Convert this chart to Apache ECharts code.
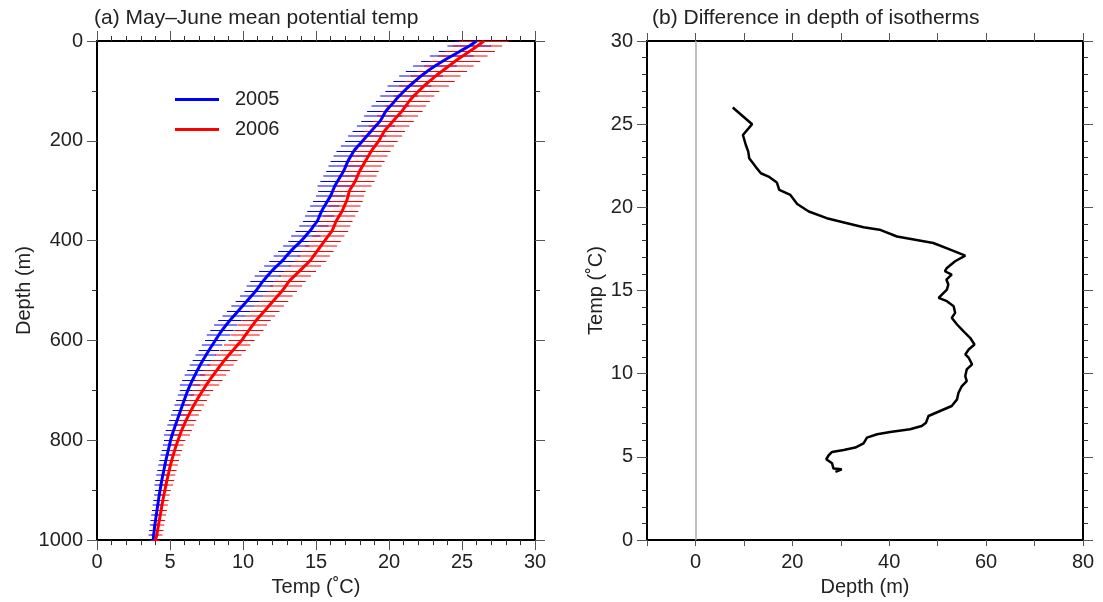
<!DOCTYPE html>
<html>
<head>
<meta charset="utf-8">
<script src="https://cdn.jsdelivr.net/npm/echarts@6/dist/echarts.min.js"></script>
<style>
html, body { margin: 0; padding: 0; background: #fff; }
#chart { width: 1103px; height: 602px; }
</style>
</head>
<body>
<div id="chart"></div>
<script>
// depth levels (m) of the mean profiles, panel (a)
var depths = [0,10,20,30,40,50,60,70,80,90,100,110,120,130,140,150,160,170,180,190,
  200,210,220,230,240,250,260,270,280,290,300,310,320,330,340,350,360,370,380,390,
  400,410,420,430,440,450,460,470,480,490,500,510,520,530,540,550,560,570,580,590,
  600,610,620,630,640,650,660,670,680,690,700,710,720,730,740,750,760,770,780,790,
  800,810,820,830,840,850,860,870,880,890,900,910,920,930,940,950,960,970,980,990,1000];

// May-June mean potential temperature, 2005
var temp2005 = [26.0,25.5,24.9,24.3,23.7,23.15,22.65,22.2,21.8,21.4,
  21.05,20.7,20.4,20.1,19.8,19.6,19.4,19.1,18.8,18.5,
  18.2,17.9,17.6,17.4,17.2,17.05,16.9,16.7,16.5,16.3,
  16.15,16.0,15.8,15.6,15.4,15.25,15.1,14.85,14.6,14.3,
  14.0,13.65,13.3,13.0,12.7,12.35,12.0,11.7,11.4,11.15,
  10.9,10.6,10.3,10.0,9.7,9.4,9.1,8.82,8.56,8.32,
  8.1,7.88,7.66,7.45,7.25,7.05,6.87,6.7,6.53,6.37,
  6.22,6.09,5.97,5.85,5.73,5.61,5.49,5.37,5.25,5.14,
  5.04,4.96,4.88,4.8,4.72,4.65,4.58,4.51,4.44,4.38,
  4.32,4.26,4.21,4.16,4.11,4.06,4.01,3.96,3.92,3.88,3.85];

// May-June mean potential temperature, 2006
var temp2006 = [26.5,26.05,25.55,25.05,24.55,24.1,23.65,23.2,22.8,22.4,
  22.05,21.7,21.4,21.15,20.9,20.6,20.3,20.0,19.7,19.5,
  19.3,19.05,18.8,18.6,18.4,18.2,18.0,17.85,17.7,17.5,
  17.3,17.2,17.1,16.95,16.8,16.6,16.4,16.25,16.1,15.85,
  15.6,15.35,15.1,14.85,14.6,14.25,13.9,13.55,13.2,12.95,
  12.7,12.4,12.1,11.8,11.5,11.2,10.9,10.65,10.4,10.15,
  9.9,9.6,9.3,9.0,8.72,8.46,8.2,7.95,7.7,7.47,
  7.25,7.03,6.83,6.63,6.45,6.27,6.1,5.95,5.8,5.67,
  5.55,5.43,5.32,5.22,5.12,5.03,4.95,4.87,4.79,4.72,
  4.65,4.58,4.51,4.45,4.39,4.33,4.27,4.21,4.15,4.09,4.0];

// error bar half width (deg C) per 100 m band: 0-99, 100-199, ... , 1000
var err2005 = [1.5, 1.3, 1.2, 1.0, 0.9, 0.8, 0.7, 0.55, 0.45, 0.35, 0.3];
var err2006 = [1.7, 1.4, 1.3, 1.1, 1.1, 1.0, 0.9, 0.7, 0.5, 0.4, 0.3];

// panel (b): difference in depth of isotherms
var isoTemp = [26.0,25.0,24.35,23.75,23.35,22.95,22.45,22.05,21.85,21.5,
  21.05,20.75,20.2,19.75,19.65,19.35,19.05,18.8,18.66,18.25,
  17.86,17.46,17.1,16.76,16.36,16.16,15.96,15.66,15.36,15.06,
  14.56,14.36,14.06,13.66,13.36,12.96,12.56,12.16,11.76,11.46,
  11.16,10.96,10.56,10.26,9.86,9.56,9.26,8.86,8.46,8.06,
  7.76,7.46,7.06,6.86,6.66,6.5,6.36,6.16,5.82,5.56,
  5.42,5.3,5.1,4.86,4.62,4.3,4.26,4.1];
var isoDiff = [7.7,11.7,9.8,10.4,10.9,11.1,12.4,13.5,15.1,16.8,
  17.3,19.6,21.0,23.4,23.7,27.1,31.3,34.7,38.0,41.6,
  49.1,52.6,55.7,53.6,51.9,51.5,52.9,51.8,52.2,51.9,
  50.2,51.9,53.3,53.6,52.9,54.0,55.3,56.7,57.6,56.4,
  55.7,56.4,57.1,56.0,55.7,56.0,55.0,54.3,54.0,52.9,
  50.5,48.1,47.6,46.7,44.3,40.2,37.5,35.4,34.7,33.0,
  30.6,28.2,27.5,27.0,28.2,28.5,30.2,28.9];

var FONT = 'Liberation Sans';
var TXT = '#222';
var FS = 20;

function profile(temps) {
  return depths.map(function (d, i) { return [temps[i], d]; });
}
function errData(temps, errs) {
  return depths.map(function (d, i) {
    return [temps[i], d, errs[Math.min(10, Math.floor(d / 100))], i];
  });
}
// every other bar sits between pixel rows, so it comes out softer, as in the original
function errBars(color) {
  return function (params, api) {
    var t = api.value(0), d = api.value(1), e = api.value(2), i = api.value(3);
    var a = api.coord([t - e, d]);
    var b = api.coord([t + e, d]);
    var y = Math.round(a[1]) + (i % 2 ? 0 : 0.5);
    return {
      type: 'line',
      shape: { x1: a[0], y1: y, x2: b[0], y2: y },
      style: { stroke: color, lineWidth: 1, fill: null }
    };
  };
}
function plain(v) { return String(v); }

function axisBase(extra) {
  var o = {
    type: 'value',
    axisLine: { show: true, onZero: false, lineStyle: { color: '#000', width: 2 } },
    axisTick: { show: true, inside: false, length: 10, lineStyle: { color: '#555', width: 1 } },
    axisLabel: { show: true, fontFamily: FONT, fontSize: FS, color: TXT, margin: 12, formatter: plain },
    splitLine: { show: false },
    nameTextStyle: { fontFamily: FONT, fontSize: FS, color: TXT },
    nameLocation: 'middle'
  };
  for (var k in extra) o[k] = extra[k];
  return o;
}
var minor5 = { show: true, splitNumber: 5, length: 5, lineStyle: { color: '#333' } };
var minor2 = { show: true, splitNumber: 2, length: 5, lineStyle: { color: '#333' } };
var leftLabel = { show: true, fontFamily: FONT, fontSize: FS, color: TXT, margin: 14, formatter: plain };

var chart = echarts.init(document.getElementById('chart'), null, { renderer: 'canvas' });

var option = {
  animation: false,
  backgroundColor: '#fff',
  title: [
    { text: '(a) May\u2013June mean potential temp', left: 89, top: 3,
      textStyle: { fontFamily: FONT, fontSize: 21, fontWeight: 'normal', color: TXT } },
    { text: '(b) Difference in depth of isotherms', left: 647, top: 3,
      textStyle: { fontFamily: FONT, fontSize: 21, fontWeight: 'normal', color: TXT } }
  ],
  legend: {
    data: ['2005', '2006'],
    orient: 'vertical',
    left: 170, top: 84,
    itemWidth: 44, itemHeight: 3, itemGap: 9,
    icon: 'rect',
    textStyle: { fontFamily: FONT, fontSize: FS, color: TXT, padding: [0, 0, 0, 11], lineHeight: 21 }
  },
  grid: [
    { left: 97, top: 41, width: 438, height: 500 },
    { left: 647, top: 41, width: 436, height: 500 }
  ],
  xAxis: [
    axisBase({ gridIndex: 0, position: 'bottom', min: 0, max: 30, interval: 5,
      minorTick: minor5, name: 'Temp (\u02DAC)', nameGap: 31 }),
    axisBase({ gridIndex: 0, position: 'top', min: 0, max: 30, interval: 5,
      minorTick: minor5, axisLabel: { show: false } }),
    axisBase({ gridIndex: 1, position: 'bottom', min: -10, max: 80, interval: 10,
      axisTick: { show: true, length: 6, lineStyle: { color: '#555' } },
      axisLabel: { show: true, fontFamily: FONT, fontSize: FS, color: TXT, margin: 12,
        formatter: function (v) { return (v >= 0 && v % 20 === 0) ? String(v) : ''; } },
      name: 'Depth (m)', nameGap: 31 }),
    axisBase({ gridIndex: 1, position: 'top', min: -10, max: 80, interval: 10,
      axisTick: { show: true, length: 8, lineStyle: { color: '#555' } },
      axisLabel: { show: false } })
  ],
  yAxis: [
    axisBase({ gridIndex: 0, position: 'left', inverse: true, min: 0, max: 1000, interval: 200,
      minorTick: minor2, axisLabel: leftLabel, name: 'Depth (m)', nameGap: 62 }),
    axisBase({ gridIndex: 0, position: 'right', inverse: true, min: 0, max: 1000, interval: 200,
      minorTick: minor2, axisLabel: { show: false } }),
    axisBase({ gridIndex: 1, position: 'left', min: 0, max: 30, interval: 5,
      minorTick: minor5, axisLabel: leftLabel, name: 'Temp (\u02DAC)', nameGap: 40 }),
    axisBase({ gridIndex: 1, position: 'right', min: 0, max: 30, interval: 5,
      minorTick: minor5, axisLabel: { show: false } })
  ],
  series: [
    { name: '2005 err', type: 'custom', xAxisIndex: 0, yAxisIndex: 0, silent: true,
      itemStyle: { color: '#0000ff' },
      renderItem: errBars('#0000ff'), data: errData(temp2005, err2005), z: 2 },
    { name: '2006 err', type: 'custom', xAxisIndex: 0, yAxisIndex: 0, silent: true,
      itemStyle: { color: '#ff0000' },
      renderItem: errBars('#ff0000'), data: errData(temp2006, err2006), z: 3 },
    { name: '2005', type: 'line', xAxisIndex: 0, yAxisIndex: 0, showSymbol: false, smooth: 0.4,
      color: '#0000ff', lineStyle: { color: '#0000ff', width: 3 }, data: profile(temp2005), z: 5 },
    { name: '2006', type: 'line', xAxisIndex: 0, yAxisIndex: 0, showSymbol: false, smooth: 0.4,
      color: '#ff0000', lineStyle: { color: '#ff0000', width: 3 }, data: profile(temp2006), z: 6 },
    { name: 'diff', type: 'line', xAxisIndex: 2, yAxisIndex: 2, showSymbol: false,
      color: '#000', lineStyle: { color: '#000', width: 2.5 },
      data: isoDiff.map(function (x, i) { return [x, isoTemp[i]]; }),
      markLine: { silent: true, symbol: 'none', label: { show: false },
        lineStyle: { color: '#aaa', width: 1.5, type: 'solid' },
        data: [{ xAxis: 0 }] },
      z: 5 }
  ]
};

chart.setOption(option);
</script>
</body>
</html>
